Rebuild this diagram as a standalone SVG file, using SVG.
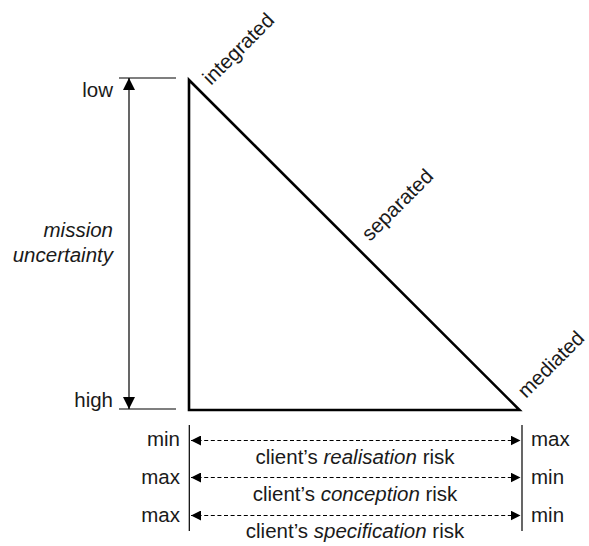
<svg xmlns="http://www.w3.org/2000/svg" width="589" height="546" viewBox="0 0 589 546">
  <style>
    text { font-family: "Liberation Sans", Arial, sans-serif; font-size: 20.5px; fill: #1a1a1a; }
    .it { font-style: italic; }
    .end { text-anchor: end; }
    .mid { text-anchor: middle; }
    .thin { stroke: #000; stroke-width: 1.2; fill: none; }
    .dash { stroke: #000; stroke-width: 1.1; fill: none; stroke-dasharray: 4 2.6; }
    .tri { stroke: #000; stroke-width: 2.6; fill: none; stroke-linejoin: miter; }
  </style>
  <defs>
    <marker id="head-v" markerUnits="userSpaceOnUse" markerWidth="12" markerHeight="12" refX="12" refY="6" orient="auto-start-reverse">
      <path d="M0,0 L12,6 L0,12 Z" fill="#000"/>
    </marker>
    <marker id="head-h" markerUnits="userSpaceOnUse" markerWidth="10" markerHeight="10" refX="10" refY="5" orient="auto-start-reverse">
      <path d="M0,0 L10,5 L0,10 Z" fill="#000"/>
    </marker>
  </defs>

  <!-- the triangle of organisational forms -->
  <g id="triangle">
    <path class="tri" d="M189,80 L189,410 L519.5,410 Z"/>
    <text transform="translate(211,86) rotate(-45)">integrated</text>
    <text transform="translate(370,242) rotate(-45)">separated</text>
    <text transform="translate(526,399) rotate(-45)">mediated</text>
  </g>

  <!-- vertical axis: mission uncertainty -->
  <g id="uncertainty-axis">
    <line class="thin" x1="119" y1="78" x2="176" y2="78"/>
    <line class="thin" x1="119" y1="409" x2="176" y2="409"/>
    <text class="end" x="113" y="97">low</text>
    <text class="end" x="113" y="407">high</text>
    <text class="end it" x="113" y="237">mission</text>
    <text class="end it" x="113" y="262">uncertainty</text>
  </g>

  <!-- horizontal scales: client risks -->
  <g id="risk-scales">
    <line class="thin" x1="189.3" y1="425" x2="189.3" y2="531"/>
    <line class="thin" x1="522" y1="425" x2="522" y2="531"/>
    <text class="end" x="180" y="446">min</text>
    <text class="end" x="180" y="483.5">max</text>
    <text class="end" x="180" y="521.5">max</text>
    <text x="531" y="446">max</text>
    <text x="531" y="483.5">min</text>
    <text x="531" y="521.5">min</text>
    <text class="mid" x="355" y="464">client’s <tspan class="it">realisation</tspan> risk</text>
    <text class="mid" x="355" y="501">client’s <tspan class="it">conception</tspan> risk</text>
    <text class="mid" x="355" y="538">client’s <tspan class="it">specification</tspan> risk</text>
  </g>

  <!-- connectors -->
  <g id="connectors">
    <line class="thin" x1="129" y1="78" x2="129" y2="409" marker-start="url(#head-v)" marker-end="url(#head-v)"/>
    <line class="dash" x1="191" y1="440.5" x2="520.5" y2="440.5" marker-start="url(#head-h)" marker-end="url(#head-h)"/>
    <line class="dash" x1="191" y1="477.5" x2="520.5" y2="477.5" marker-start="url(#head-h)" marker-end="url(#head-h)"/>
    <line class="dash" x1="191" y1="515.5" x2="520.5" y2="515.5" marker-start="url(#head-h)" marker-end="url(#head-h)"/>
  </g>
</svg>
